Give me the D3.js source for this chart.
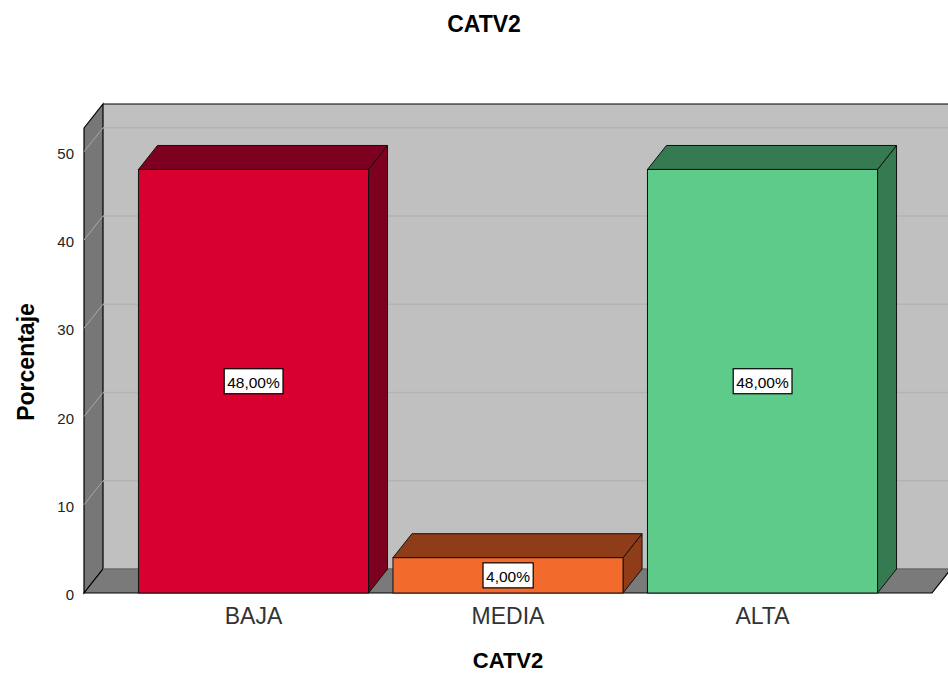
<!DOCTYPE html>
<html>
<head>
<meta charset="utf-8">
<script src="https://cdn.jsdelivr.net/npm/d3@7/dist/d3.min.js"></script>
<style>
  body { margin: 0; background: #fff; }
  text { font-family: "Liberation Sans", Arial, sans-serif; }
</style>
</head>
<body>
<svg id="chart" width="948" height="675"></svg>
<script>
"use strict";

var categories = ["BAJA", "MEDIA", "ALTA"];
var percentages = [48, 4, 48];
var valueLabels = ["48,00%", "4,00%", "48,00%"];
var yTicks = [0, 10, 20, 30, 40, 50];
var frontColors = ["#d7002f", "#f26a2c", "#5ecb8a"];
var depthColors = ["#7d0020", "#8f3c19", "#367a52"];

var svg = d3.select("#chart");
var depthX = 19, depthY = -24;
var plotLeft = 84, plotRight = 932, plotBottom = 593, plotTop = 128;

var x = d3.scaleBand().domain(categories).range([plotLeft, plotRight]).paddingInner(0.096).paddingOuter(0.214);
var y = d3.scaleLinear().domain([0, 52.7]).range([plotBottom, plotTop]);

var pts = function (arr) { return arr.map(function (p) { return p.join(","); }).join(" "); };

// back wall
svg.append("rect")
    .attr("x", plotLeft + depthX).attr("y", plotTop + depthY)
    .attr("width", 960 - plotLeft - depthX).attr("height", plotBottom - plotTop)
    .attr("fill", "#c0c0c0");

// left wall
svg.append("polygon")
    .attr("points", pts([[plotLeft, plotTop], [plotLeft + depthX, plotTop + depthY], [plotLeft + depthX, plotBottom + depthY], [plotLeft, plotBottom]]))
    .attr("fill", "#777777").attr("stroke", "#000").attr("stroke-width", 1.2);

// floor
svg.append("polygon")
    .attr("points", pts([[plotLeft, plotBottom], [plotLeft + depthX, plotBottom + depthY], [plotRight + depthX, plotBottom + depthY], [plotRight, plotBottom]]))
    .attr("fill", "#7a7a7a").attr("stroke", "#000").attr("stroke-width", 1.2);

// top edge of the back wall
svg.append("line")
    .attr("x1", plotLeft + depthX).attr("x2", 960)
    .attr("y1", plotTop + depthY).attr("y2", plotTop + depthY)
    .attr("stroke", "#000").attr("stroke-width", 1.2);

// gridlines
var grid = svg.append("g");
yTicks.forEach(function (t) {
    if (t === 0) return;
    grid.append("line")
        .attr("x1", plotLeft).attr("y1", y(t))
        .attr("x2", plotLeft + depthX).attr("y2", y(t) + depthY)
        .attr("stroke", "#a8a8a8").attr("stroke-width", 1);
    grid.append("line")
        .attr("x1", plotLeft + depthX).attr("y1", y(t) + depthY)
        .attr("x2", 960).attr("y2", y(t) + depthY)
        .attr("stroke", "#b3b3b3").attr("stroke-width", 1.5);
});
grid.append("line")
    .attr("x1", plotLeft + depthX).attr("y1", plotBottom + depthY)
    .attr("x2", plotRight + depthX).attr("y2", plotBottom + depthY)
    .attr("stroke", "#a0a0a0").attr("stroke-width", 1);

// tick labels
svg.append("g").selectAll("text").data(yTicks).join("text")
    .attr("x", 74).attr("y", function (d) { return y(d) + 7; })
    .attr("text-anchor", "end")
    .attr("font-size", 15).attr("fill", "#222")
    .text(function (d) { return d; });

// bars
var bars = svg.append("g").selectAll("g").data(categories).join("g");
bars.each(function (c, i) {
    var g = d3.select(this);
    var x0 = x(c), x1 = x(c) + x.bandwidth();
    var yt = y(percentages[i]), yb = y(0);
    g.append("polygon")
        .attr("points", pts([[x1, yt], [x1 + depthX, yt + depthY], [x1 + depthX, yb + depthY], [x1, yb]]))
        .attr("fill", depthColors[i]).attr("stroke", "#111").attr("stroke-width", 1);
    g.append("polygon")
        .attr("points", pts([[x0, yt], [x0 + depthX, yt + depthY], [x1 + depthX, yt + depthY], [x1, yt]]))
        .attr("fill", depthColors[i]).attr("stroke", "#111").attr("stroke-width", 1);
    g.append("rect")
        .attr("x", x0).attr("y", yt)
        .attr("width", x.bandwidth()).attr("height", yb - yt)
        .attr("fill", frontColors[i]).attr("stroke", "#111").attr("stroke-width", 1);

    var cx = x0 + x.bandwidth() / 2, cy = (yt + yb) / 2;
    var label = g.append("text")
        .attr("x", cx).attr("y", cy + 6.5)
        .attr("text-anchor", "middle")
        .attr("font-size", 15.5).attr("fill", "#000")
        .text(valueLabels[i]);
    var bb = label.node().getBBox();
    g.insert("rect", "text")
        .attr("x", bb.x - 3).attr("y", cy - 12.5)
        .attr("width", bb.width + 6).attr("height", 25)
        .attr("fill", "#fff").attr("stroke", "#000").attr("stroke-width", 1.2);
});

// category labels
svg.append("g").selectAll("text").data(categories).join("text")
    .attr("x", function (d) { return x(d) + x.bandwidth() / 2; })
    .attr("y", 624)
    .attr("text-anchor", "middle")
    .attr("font-size", 23).attr("fill", "#333")
    .text(function (d) { return d; });

// titles
svg.append("text")
    .attr("x", 484).attr("y", 32)
    .attr("text-anchor", "middle")
    .attr("font-size", 23).attr("font-weight", "bold")
    .text("CATV2");

svg.append("text")
    .attr("x", 508).attr("y", 668)
    .attr("text-anchor", "middle")
    .attr("font-size", 22).attr("font-weight", "bold")
    .text("CATV2");

svg.append("text")
    .attr("transform", "translate(34,362) rotate(-90)")
    .attr("text-anchor", "middle")
    .attr("font-size", 23).attr("font-weight", "bold")
    .text("Porcentaje");
</script>
</body>
</html>
